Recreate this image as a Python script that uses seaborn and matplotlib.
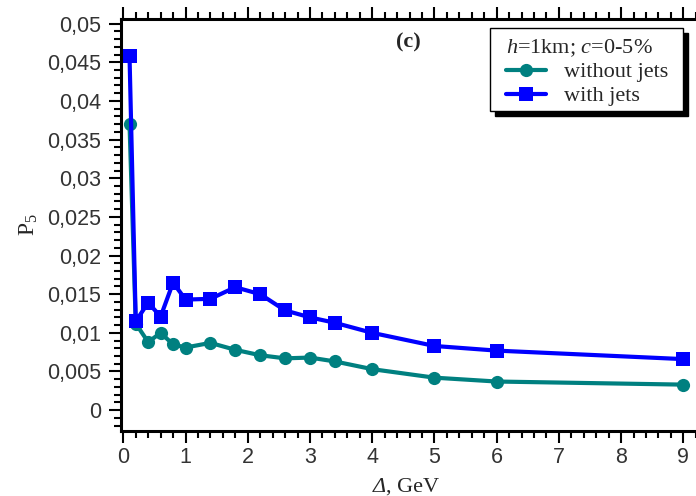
import matplotlib
matplotlib.use("Agg")
import matplotlib.pyplot as plt
from matplotlib.ticker import MultipleLocator, FuncFormatter
from matplotlib.patches import Rectangle
import seaborn as sns
import pandas as pd

# Energy threshold values (GeV) and the P5 probability for both scenarios
delta = [0.1, 0.2, 0.4, 0.6, 0.8, 1.0, 1.4, 1.8, 2.2, 2.6, 3.0, 3.4, 4.0, 5.0, 6.0, 9.0]
p5_without_jets = [0.0370, 0.0112, 0.0088, 0.0100, 0.0085, 0.0081, 0.0087, 0.0078,
                   0.0071, 0.0067, 0.0068, 0.0063, 0.0053, 0.0042, 0.0037, 0.0033]
p5_with_jets = [0.0458, 0.0115, 0.0139, 0.0121, 0.0165, 0.0143, 0.0144, 0.0159,
                0.0150, 0.0129, 0.0120, 0.0113, 0.0100, 0.0083, 0.0077, 0.0066]
series_labels = ["without jets", "with jets"]
legend_title = r"$\mathit{h}$=1km; $\mathit{c}$=0-5%"
panel_tag = "(c)"

sns.set_theme(style="ticks")
plt.rcParams["mathtext.fontset"] = "custom"
plt.rcParams["mathtext.rm"] = "Liberation Serif"
plt.rcParams["mathtext.it"] = "Liberation Serif:italic"
plt.rcParams["mathtext.bf"] = "Liberation Serif:bold"
plt.rcParams["font.family"] = ["Liberation Sans", "DejaVu Sans"]

df = pd.DataFrame({
    "delta": delta * 2,
    "p5": p5_without_jets + p5_with_jets,
    "series": [series_labels[0]] * len(delta) + [series_labels[1]] * len(delta),
})

W, H = 696, 496
fig = plt.figure(figsize=(W / 100, H / 100), dpi=100)
ax = fig.add_axes([121 / W, 1 - 431 / H, (702 - 121) / W, (431 - 19) / H])

styles = {
    series_labels[0]: dict(color="#008080", marker="o", markersize=9.5),
    series_labels[1]: dict(color="#0000ff", marker="s", markersize=9.5),
}
for name in series_labels:
    sub = df[df["series"] == name]
    sns.lineplot(data=sub, x="delta", y="p5", ax=ax, label=name,
                 linewidth=3, markeredgewidth=0, clip_on=False,
                 **styles[name])

ax.set_xlim(-0.037, 9.3)
ax.set_ylim(-0.0027, 0.0506)

ax.xaxis.set_major_locator(MultipleLocator(1))
ax.xaxis.set_minor_locator(MultipleLocator(0.2))
ax.yaxis.set_major_locator(MultipleLocator(0.005))
ax.yaxis.set_minor_locator(MultipleLocator(0.001))


def comma_fmt(v, pos):
    s = f"{round(v, 4):g}"
    if s == "-0":
        s = "0"
    return s.replace(".", ",")


ax.yaxis.set_major_formatter(FuncFormatter(comma_fmt))
ax.xaxis.set_major_formatter(FuncFormatter(lambda v, p: f"{int(round(v))}"))

for side in ["left", "bottom", "top"]:
    ax.spines[side].set_linewidth(2.2)
    ax.spines[side].set_color("black")
ax.spines["right"].set_visible(False)

ax.tick_params(axis="both", which="major", direction="out", length=8.5, width=1.5,
               color="black", labelsize=15.5, labelcolor="#333333")
ax.tick_params(axis="both", which="minor", direction="out", length=5, width=1.5,
               color="black")
ax.tick_params(axis="x", which="both", top=True, labeltop=False, pad=3)
ax.tick_params(axis="y", which="both", right=False, pad=6)

# x-axis label: italic Delta followed by the unit
ax.set_xlabel("")
fig.text(386 / W, 1 - 492 / H, "Δ", ha="right", va="baseline", fontsize=16,
         family="Liberation Serif", style="italic")
fig.text(386 / W, 1 - 492 / H, ", GeV", ha="left", va="baseline", fontsize=16,
         family="Liberation Serif")

ax.set_ylabel(r"P$_5$", fontsize=17, family="Liberation Serif", labelpad=5)

ax.text(0.494, 0.944, panel_tag, transform=ax.transAxes, ha="center", va="center",
        fontsize=16, fontweight="bold", family="Liberation Serif")

# legend content; frame and shadow are drawn separately with custom padding
pad_l, pad_r, pad_t, pad_b = 16, 15, 9, 5
frame_right, frame_top = 683, 28
leg = ax.legend(title=legend_title, loc="upper right",
                bbox_to_anchor=((frame_right - pad_r) / W, 1 - (frame_top + pad_t) / H),
                bbox_transform=fig.transFigure,
                borderaxespad=0, borderpad=0, frameon=False,
                prop={"family": "Liberation Serif", "size": 16},
                title_fontproperties={"family": "Liberation Serif", "size": 16},
                handlelength=1.8, handletextpad=0.8, labelspacing=0.15,
                alignment="left")
leg.set_zorder(6)

fig.canvas.draw()
bb = leg.get_window_extent(fig.canvas.get_renderer())
x0 = bb.x0 - pad_l
y0 = bb.y0 - pad_b
w = bb.width + pad_l + pad_r
h = bb.height + pad_t + pad_b
shadow = Rectangle(((x0 + 5) / W, (y0 - 5) / H), w / W, h / H,
                   transform=fig.transFigure, facecolor="black", edgecolor="black",
                   zorder=5, clip_on=False)
frame = Rectangle((x0 / W, y0 / H), w / W, h / H, transform=fig.transFigure,
                  facecolor="white", edgecolor="black", linewidth=1.0,
                  zorder=5.5, clip_on=False)
ax.add_patch(shadow)
ax.add_patch(frame)

fig.savefig("out.png", dpi=100)
